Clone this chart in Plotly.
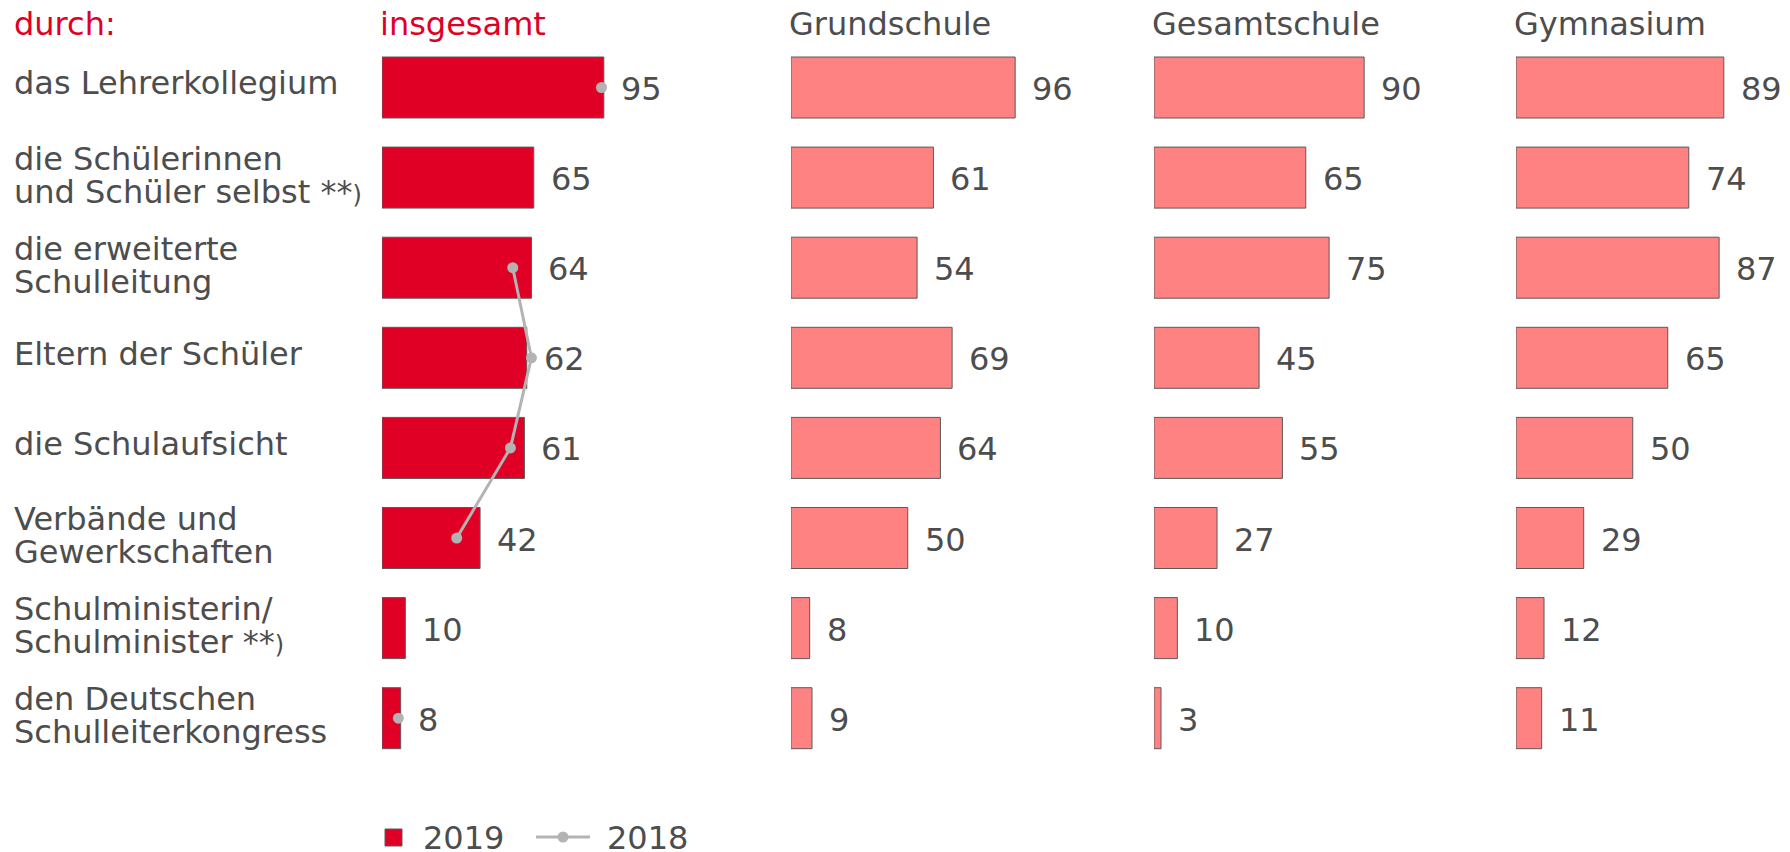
import plotly.graph_objects as go

# ── data ──────────────────────────────────────────────────────────────────────
categories = [
    "das Lehrerkollegium",
    "die Schülerinnen\nund Schüler selbst **)",
    "die erweiterte\nSchulleitung",
    "Eltern der Schüler",
    "die Schulaufsicht",
    "Verbände und\nGewerkschaften",
    "Schulministerin/\nSchulminister **)",
    "den Deutschen\nSchulleiterkongress",
]
panels = ["insgesamt", "Grundschule", "Gesamtschule", "Gymnasium"]
legend_names = ["2019", "2018"]

total_2019 = [95, 65, 64, 62, 61, 42, 10, 8]
total_2018 = [94, None, 56, 64, 55, 32, None, 7]
grundschule = [96, 61, 54, 69, 64, 50, 8, 9]
gesamtschule = [90, 65, 75, 45, 55, 27, 10, 3]
gymnasium = [89, 74, 87, 65, 50, 29, 12, 11]

# ── style ─────────────────────────────────────────────────────────────────────
W, H = 1790, 852
FONT = "DejaVu Sans"
FS = 32
RED = "#E00025"
PINK = "#FF8282"
GREY_LINE = "#B3B3B3"
TXT = "#4D4D4D"
OUTLINE = "#5A5A5A"

PX_PER_UNIT = 2.335
X_MAX = 110
panel_left = [374, 783, 1146, 1508]      # pixel position of each zero line

ROW_TOP, ROW_PITCH = 79.5, 90.1           # pixel centre of first row, row spacing
n = len(categories)
ypos = list(range(n))
y_top_px = ROW_TOP - ROW_PITCH / 2
y_bot_px = ROW_TOP + (n - 0.5) * ROW_PITCH


def px_x(p):
    return p / W


def px_y(p):
    return 1 - p / H


def fmt(label):
    # the footnote bracket is set smaller in the original
    return label.replace("**)", "**<span style='font-size:24px'>)</span>")


fig = go.Figure()

series = [total_2019, grundschule, gesamtschule, gymnasium]
colors = [RED, PINK, PINK, PINK]
for i, (vals, col) in enumerate(zip(series, colors)):
    xa = "x" if i == 0 else f"x{i + 1}"
    fig.add_trace(go.Bar(
        x=vals, y=ypos, orientation="h",
        xaxis=xa, yaxis="y",
        marker=dict(color=col, line=dict(color=OUTLINE, width=1)),
        name=legend_names[0], showlegend=False,
        hoverinfo="x",
    ))
    for yi, v in zip(ypos, vals):
        fig.add_annotation(
            x=v, y=yi + 0.017, xref=xa, yref="y",
            text=str(v), showarrow=False, xanchor="left", yanchor="middle",
            xshift=15, font=dict(family=FONT, size=FS, color=TXT),
        )

fig.add_trace(go.Scatter(
    x=total_2018, y=ypos, xaxis="x", yaxis="y",
    mode="lines+markers", connectgaps=False, name=legend_names[1],
    line=dict(color=GREY_LINE, width=3),
    marker=dict(color=GREY_LINE, size=11),
    showlegend=False,
))

# row labels (one annotation per line for the tight line spacing)
for yi, cat in zip(ypos, categories):
    lines = cat.split("\n")
    offsets = [-0.045] if len(lines) == 1 else [-0.21, 0.155]
    for line, off in zip(lines, offsets):
        fig.add_annotation(
            x=px_x(4), y=yi + off, xref="paper", yref="y",
            text=fmt(line), showarrow=False, xanchor="left", yanchor="middle",
            font=dict(family=FONT, size=FS, color=TXT),
        )

# column headers
HEAD_Y = 16
fig.add_annotation(
    x=px_x(4), y=px_y(HEAD_Y), xref="paper", yref="paper", text="durch:",
    showarrow=False, xanchor="left", yanchor="middle",
    font=dict(family=FONT, size=FS, color=RED),
)
for i, (name, left) in enumerate(zip(panels, panel_left)):
    fig.add_annotation(
        x=px_x(left - 4), y=px_y(HEAD_Y), xref="paper", yref="paper",
        text=name, showarrow=False, xanchor="left", yanchor="middle",
        font=dict(family=FONT, size=FS, color=RED if i == 0 else TXT),
    )

# legend drawn by hand (square for 2019, line with dot for 2018)
LEG_Y = 829
shapes = [
    dict(type="rect", xref="paper", yref="paper",
         x0=px_x(377), x1=px_x(394), y0=px_y(LEG_Y + 9), y1=px_y(LEG_Y - 8),
         fillcolor=RED, line=dict(color=OUTLINE, width=1)),
    dict(type="line", xref="paper", yref="paper",
         x0=px_x(528), x1=px_x(582), y0=px_y(LEG_Y), y1=px_y(LEG_Y),
         line=dict(color=GREY_LINE, width=3)),
    dict(type="circle", xref="paper", yref="paper",
         x0=px_x(549.5), x1=px_x(560.5), y0=px_y(LEG_Y + 5.5),
         y1=px_y(LEG_Y - 5.5),
         fillcolor=GREY_LINE, line=dict(color=GREY_LINE, width=0)),
]
for name, xpx in zip(legend_names, [413, 597]):
    fig.add_annotation(
        x=px_x(xpx), y=px_y(LEG_Y + 1), xref="paper", yref="paper",
        text=name, showarrow=False, xanchor="left", yanchor="middle",
        font=dict(family=FONT, size=FS, color=TXT),
    )

axis_common = dict(range=[0, X_MAX], visible=False, fixedrange=True)
layout_axes = {}
for i, left in enumerate(panel_left):
    key = "xaxis" if i == 0 else f"xaxis{i + 1}"
    layout_axes[key] = dict(
        axis_common,
        domain=[px_x(left), px_x(left + X_MAX * PX_PER_UNIT)],
        anchor="y",
    )

fig.update_layout(
    width=W, height=H,
    margin=dict(l=0, r=0, t=0, b=0),
    paper_bgcolor="white", plot_bgcolor="white",
    font=dict(family=FONT, size=FS, color=TXT),
    bargap=0.323,
    yaxis=dict(range=[n - 0.5, -0.5], visible=False, fixedrange=True,
               domain=[px_y(y_bot_px), px_y(y_top_px)]),
    shapes=shapes,
    showlegend=False,
    **layout_axes,
)

fig.write_html("out.html")
